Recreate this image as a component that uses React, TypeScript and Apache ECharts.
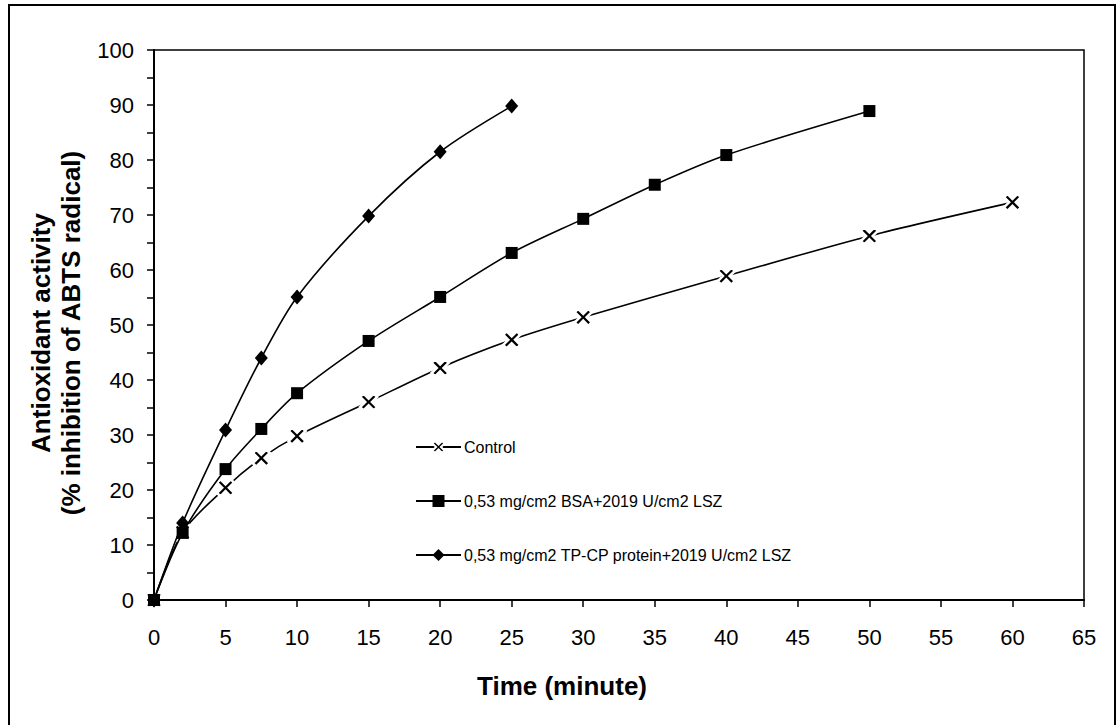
import React, { useEffect, useRef } from "react";
import * as echarts from "echarts";

const timeControl = [0, 2, 5, 7.5, 10, 15, 20, 25, 30, 40, 50, 60];
const valControl = [0, 12.3, 20.4, 25.8, 29.8, 36.0, 42.2, 47.3, 51.4, 58.9, 66.2, 72.3];

const timeBSA = [0, 2, 5, 7.5, 10, 15, 20, 25, 30, 35, 40, 50];
const valBSA = [0, 12.2, 23.8, 31.1, 37.6, 47.1, 55.1, 63.1, 69.3, 75.5, 80.9, 88.9];

const timeTPCP = [0, 2, 5, 7.5, 10, 15, 20, 25];
const valTPCP = [0, 14.0, 30.9, 44.0, 55.1, 69.8, 81.5, 89.8];

const seriesNames = [
  "Control",
  "0,53 mg/cm2 BSA+2019 U/cm2 LSZ",
  "0,53 mg/cm2 TP-CP protein+2019 U/cm2 LSZ",
];

const xTitle = "Time (minute)";
const yTitle = "Antioxidant activity\n(% inhibition of ABTS radical)";

const xSymbol =
  "path://M0,20L20,0L50,30L80,0L100,20L70,50L100,80L80,100L50,70L20,100L0,80L30,50Z";

const pairs = (xs: number[], ys: number[]) => xs.map((x, i) => [x, ys[i]]);

export default function App() {
  const ref = useRef<HTMLDivElement>(null);
  useEffect(() => {
    if (!ref.current) return;
    const chart = echarts.init(ref.current, null, { renderer: "svg" });
    const font = "'Liberation Sans', Arial, sans-serif";
    chart.setOption({
      animation: false,
      backgroundColor: "#fff",
      graphic: [
        {
          type: "rect",
          shape: { x: 9, y: 5, width: 1106, height: 740 },
          style: { fill: "none", stroke: "#000", lineWidth: 2 },
          silent: true,
        },
      ],
      grid: {
        left: 154,
        top: 50,
        right: 36,
        bottom: 125,
        show: true,
        borderColor: "#000",
        borderWidth: 1.5,
      },
      legend: {
        orient: "vertical",
        left: 415,
        top: 437,
        padding: 0,
        itemWidth: 45,
        itemHeight: 15,
        itemGap: 34,
        data: seriesNames,
        textStyle: {
          fontFamily: font,
          fontSize: 16,
          color: "#000",
          lineHeight: 20,
          padding: [0, 0, 0, -2],
        },
      },
      xAxis: {
        type: "value",
        min: 0,
        max: 65,
        interval: 5,
        name: xTitle,
        nameLocation: "middle",
        nameGap: 73,
        nameTextStyle: {
          fontFamily: font,
          fontSize: 26,
          fontWeight: "bold",
          color: "#000",
          padding: [0, 114, 0, 0],
        },
        axisLine: { lineStyle: { color: "#000", width: 2 } },
        axisTick: { show: true, inside: false, length: 7, lineStyle: { color: "#000", width: 1.5 } },
        axisLabel: { margin: 26, fontFamily: font, fontSize: 22, color: "#000" },
        splitLine: { show: false },
      },
      yAxis: {
        type: "value",
        min: 0,
        max: 100,
        interval: 10,
        name: yTitle,
        nameLocation: "middle",
        nameGap: 45,
        nameTextStyle: {
          fontFamily: font,
          fontSize: 26,
          fontWeight: "bold",
          color: "#000",
          lineHeight: 30,
          align: "center",
          padding: [0, 16, 0, 0],
        },
        axisLine: { lineStyle: { color: "#000", width: 2 } },
        axisTick: { show: true, inside: false, length: 7, lineStyle: { color: "#000", width: 1.5 } },
        minorTick: { show: true, splitNumber: 2, length: 7, lineStyle: { color: "#000", width: 1.5 } },
        axisLabel: { margin: 20, fontFamily: font, fontSize: 22, color: "#000" },
        splitLine: { show: false },
        minorSplitLine: { show: false },
      },
      series: [
        {
          name: seriesNames[0],
          type: "line",
          data: pairs(timeControl, valControl),
          smooth: 0.3,
          symbol: xSymbol,
          symbolSize: 17,
          lineStyle: { color: "#000", width: 1.6 },
          itemStyle: { color: "#000", borderColor: "#fff", borderWidth: 2.6 },
          z: 2,
        },
        {
          name: seriesNames[1],
          type: "line",
          data: pairs(timeBSA, valBSA),
          smooth: 0.3,
          symbol: "rect",
          symbolSize: 12,
          lineStyle: { color: "#000", width: 1.6 },
          itemStyle: { color: "#000" },
          z: 3,
        },
        {
          name: seriesNames[2],
          type: "line",
          data: pairs(timeTPCP, valTPCP),
          smooth: 0.3,
          symbol: "diamond",
          symbolSize: [13, 15],
          lineStyle: { color: "#000", width: 1.6 },
          itemStyle: { color: "#000" },
          z: 4,
        },
      ],
    });
    return () => chart.dispose();
  }, []);
  return (
    <div
      ref={ref}
      style={{ position: "absolute", left: 0, top: 0, width: 1120, height: 725 }}
    />
  );
}
